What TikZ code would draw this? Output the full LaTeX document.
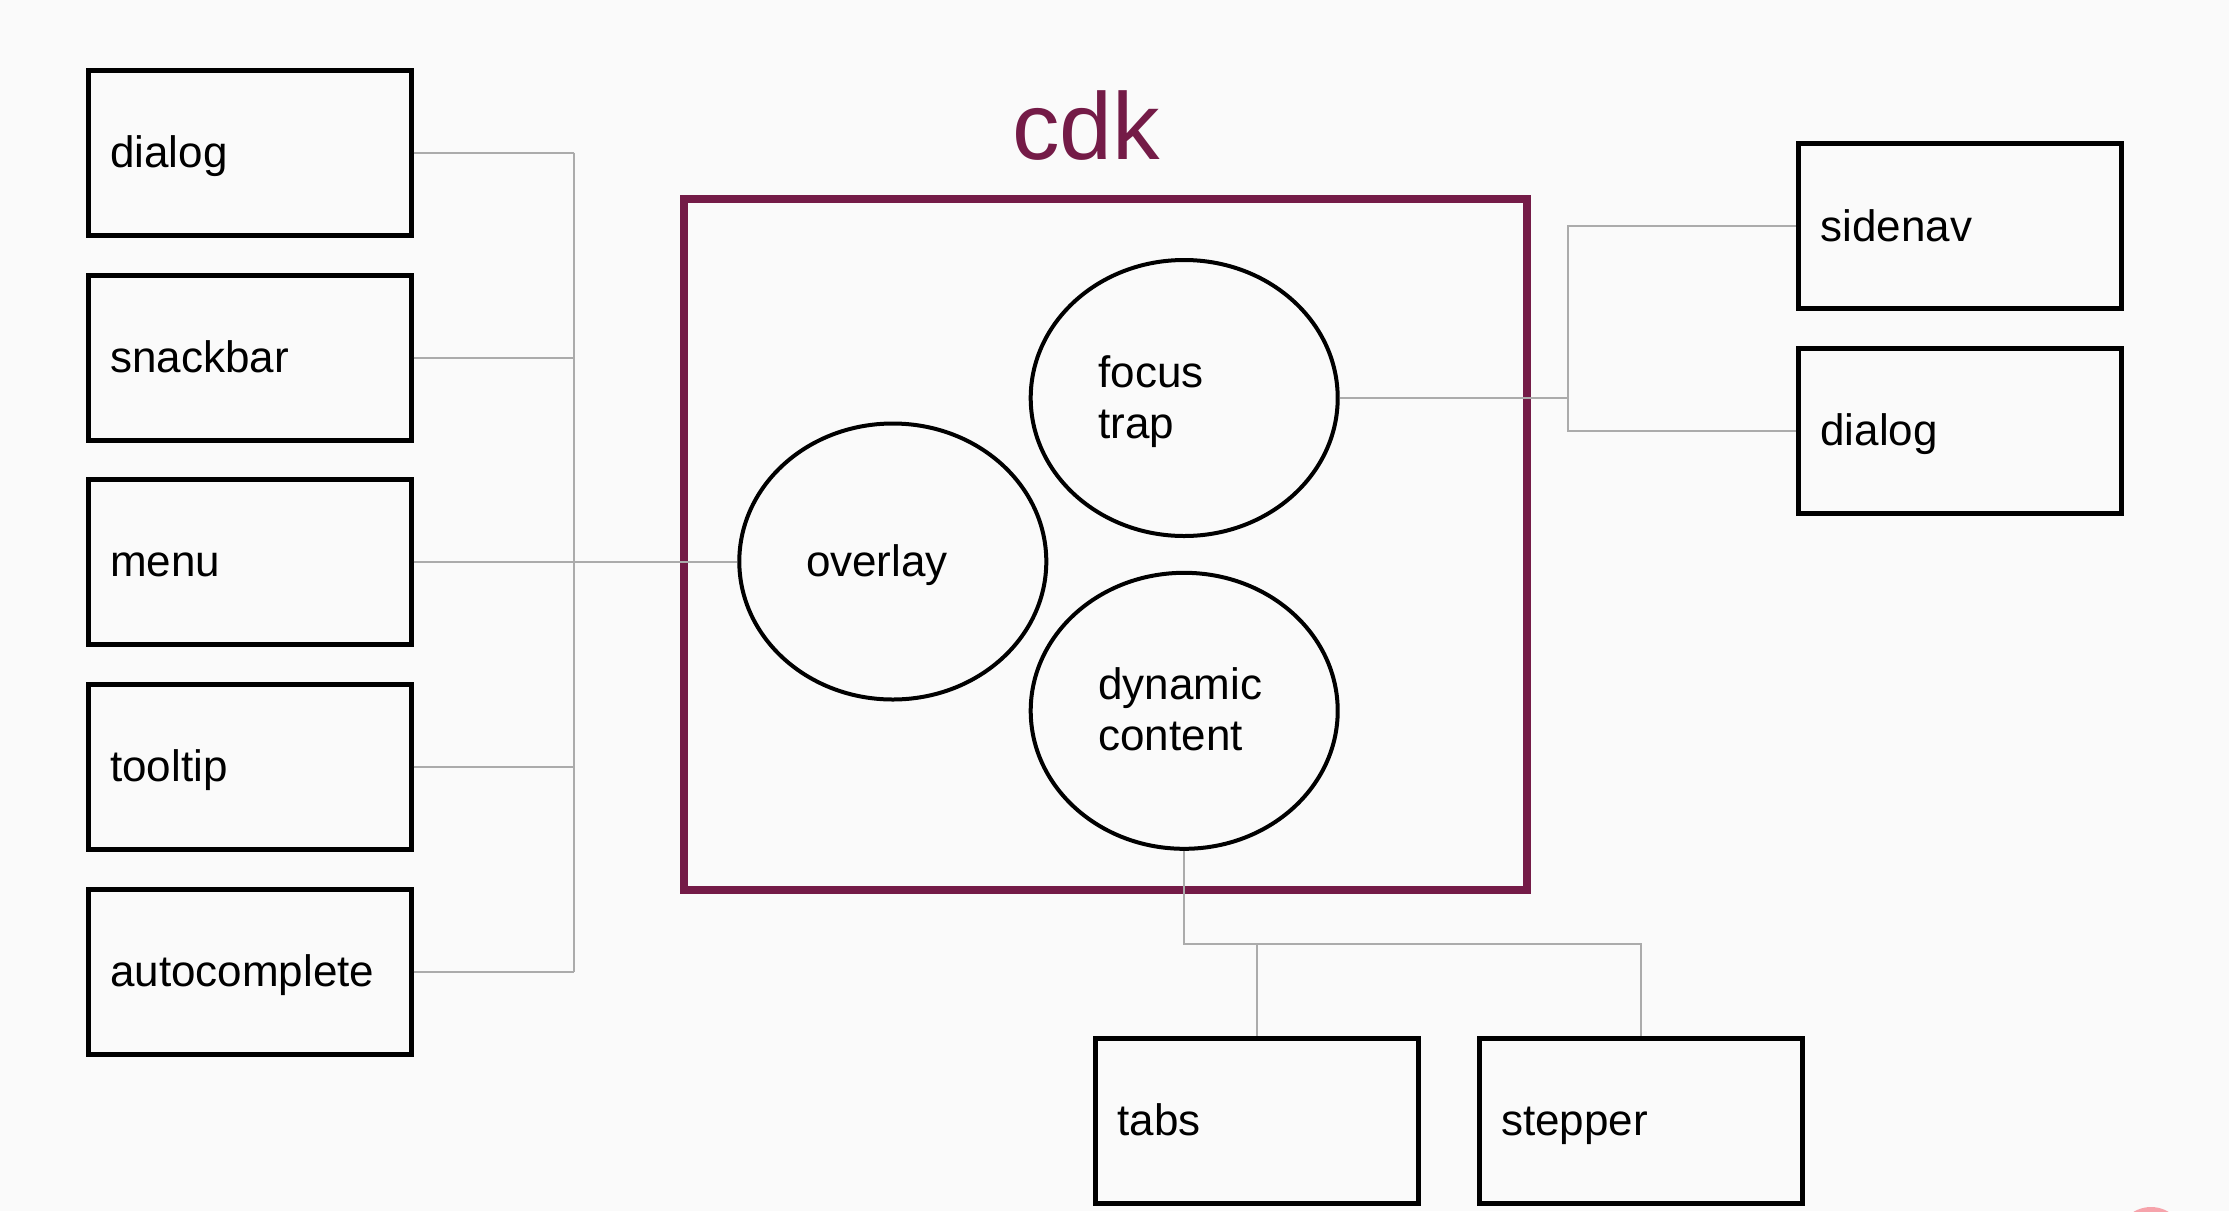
\documentclass[tikz,border=0pt]{standalone}
\usepackage{fontspec}
\setmainfont{Liberation Sans}
\usetikzlibrary{shapes.geometric}
\definecolor{bgc}{HTML}{FAFAFA}
\definecolor{cdkc}{HTML}{741B47}
\definecolor{connc}{HTML}{ABABAB}
\definecolor{pinkc}{HTML}{F6A3AB}
\begin{document}
\begin{tikzpicture}[x=1pt,y=-1pt,
  box/.style={draw=black, line width=5pt, minimum width=323pt, minimum height=165pt, inner sep=0pt},
  blob/.style={draw=black, line width=4pt, ellipse, minimum width=307pt, minimum height=276pt, inner sep=0pt},
  lbl/.style={anchor=base west, font=\fontsize{44}{52}\selectfont, inner sep=0pt},
  conn/.style={draw=connc, line width=2pt}]
\useasboundingbox (0,0) rectangle (2229,1211);
\fill[bgc] (0,0) rectangle (2229,1211);
\begin{scope}
\clip (0,0) rectangle (2229,1211);
\fill[pinkc] (2151,1241) circle[radius=34];
\end{scope}

% cdk frame
\node[draw=cdkc, line width=8pt, minimum width=843pt, minimum height=691pt, inner sep=0pt] (cdkbox) at (1105.3,544.5) {};
\node[anchor=base, font=\fontsize{95}{110}\selectfont, text=cdkc, inner sep=0pt] (cdktitle) at (1086,159) {cdk};

% left boxes
\node[box] (ldialog) at (249.5,152.5) {};
\node[box] (lsnack) at (249.5,357.5) {};
\node[box] (lmenu) at (249.5,561.5) {};
\node[box] (ltip) at (249.5,766.5) {};
\node[box] (lauto) at (249.5,971.5) {};
\node[lbl] (tldialog) at ([shift={(24.5,15)}]ldialog.west) {dialog};
\node[lbl] (tlsnack) at ([shift={(24.5,15)}]lsnack.west) {snackbar};
\node[lbl] (tlmenu) at ([shift={(24.5,15)}]lmenu.west) {menu};
\node[lbl] (tltip) at ([shift={(24.5,15)}]ltip.west) {tooltip};
\node[lbl] (tlauto) at ([shift={(24.5,15)}]lauto.west) {autocomplete};

% right boxes
\node[box] (rside) at (1959.7,226) {};
\node[box] (rdialog) at (1959.7,430.8) {};
\node[lbl] (trside) at ([shift={(24.5,15)}]rside.west) {sidenav};
\node[lbl] (trdialog) at ([shift={(24.5,15)}]rdialog.west) {dialog};

% bottom boxes
\node[box] (btabs) at (1256.7,1120.9) {};
\node[box] (bstep) at (1640.5,1120.9) {};
\node[lbl] (tbtabs) at ([shift={(24.5,15)}]btabs.west) {tabs};
\node[lbl] (tbstep) at ([shift={(24.5,15)}]bstep.west) {stepper};

% ellipses
\node[blob] (overlay) at (892.8,561.5) {};
\node[blob] (focus) at (1184.2,398) {};
\node[blob] (dyn) at (1184.2,710.8) {};
\node[lbl] (toverlay) at ([shift={(-87,15)}]overlay.center) {overlay};
\node[lbl] (tfocus1) at ([shift={(-86,-11)}]focus.center) {focus};
\node[lbl] (tfocus2) at ([shift={(-86,40)}]focus.center) {trap};
\node[lbl] (tdyn1) at ([shift={(-86,-11)}]dyn.center) {dynamic};
\node[lbl] (tdyn2) at ([shift={(-86,40)}]dyn.center) {content};

% connectors left
\coordinate (lbus) at (574,152.5);
\draw[conn] (ldialog.east) -- (ldialog.east -| lbus);
\draw[conn] (lsnack.east) -- (lsnack.east -| lbus);
\draw[conn] (ltip.east) -- (ltip.east -| lbus);
\draw[conn] (lauto.east) -- (lauto.east -| lbus);
\draw[conn] (ldialog.east -| lbus) -- (lauto.east -| lbus);
\draw[conn] (lmenu.east) -- (overlay.west);

% connectors right
\coordinate (rbus) at (1568,398);
\draw[conn] (focus.east) -- (rbus);
\draw[conn] (rside.west) -| (rbus) |- (rdialog.west);

% connectors bottom
\coordinate (bj) at (1184.2,944);
\draw[conn] (dyn.south) -- (bj) -- (bj -| bstep.north) -- (bstep.north);
\draw[conn] (bj -| btabs.north) -- (btabs.north);
\end{tikzpicture}
\end{document}
